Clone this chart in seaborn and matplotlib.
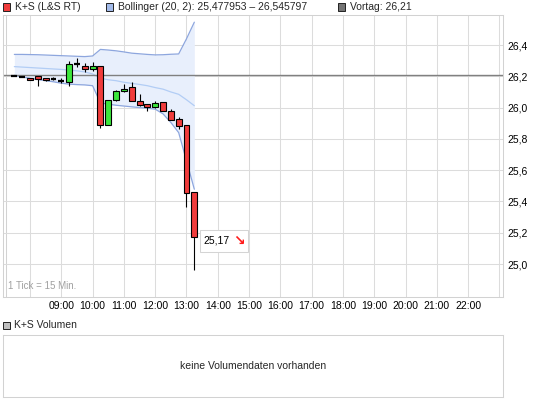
import matplotlib
matplotlib.use("Agg")
import matplotlib.pyplot as plt
from matplotlib.patches import Rectangle
from matplotlib.offsetbox import AnnotationBbox, HPacker, TextArea
import pandas as pd
import seaborn as sns

# 15-minute candles, K+S (L&S RT)
times = ["07:30", "07:45", "08:00", "08:15", "08:30", "08:45", "09:00", "09:15",
         "09:30", "09:45", "10:00", "10:15", "10:30", "10:45", "11:00", "11:15",
         "11:30", "11:45", "12:00", "12:15", "12:30", "12:45", "13:00", "13:15"]
open_ = [26.205, 26.195, 26.192, 26.199, 26.192, 26.186, 26.173, 26.161,
         26.277, 26.264, 26.245, 26.264, 25.891, 26.051, 26.109, 26.129,
         26.045, 26.026, 26.004, 26.034, 25.981, 25.929, 25.886, 25.461]
high = [26.205, 26.195, 26.192, 26.199, 26.192, 26.196, 26.190, 26.297,
        26.315, 26.284, 26.290, 26.268, 26.051, 26.113, 26.148, 26.163,
        26.090, 26.026, 26.039, 26.034, 25.989, 25.938, 25.886, 25.461]
low = [26.205, 26.195, 26.177, 26.140, 26.172, 26.175, 26.156, 26.140,
       26.262, 26.228, 26.235, 25.870, 25.891, 26.042, 26.097, 26.045,
       26.010, 25.978, 25.997, 25.978, 25.923, 25.865, 25.367, 24.964]
close = [26.205, 26.195, 26.177, 26.180, 26.177, 26.186, 26.173, 26.277,
         26.277, 26.245, 26.264, 25.891, 26.051, 26.105, 26.122, 26.045,
         26.019, 26.002, 26.032, 25.978, 25.923, 25.884, 25.455, 25.170]

# Bollinger (20, 2)
upper = [26.340, 26.340, 26.339, 26.338, 26.336, 26.334, 26.332, 26.330,
         26.328, 26.326, 26.330, 26.372, 26.368, 26.363, 26.356, 26.348,
         26.344, 26.340, 26.337, 26.338, 26.341, 26.343, 26.440, 26.546]
middle = [26.262, 26.259, 26.256, 26.253, 26.250, 26.247, 26.244, 26.240,
          26.235, 26.228, 26.215, 26.188, 26.178, 26.172, 26.162, 26.155,
          26.148, 26.140, 26.128, 26.118, 26.100, 26.085, 26.050, 26.012]
lower = [26.206, 26.196, 26.187, 26.180, 26.172, 26.165, 26.156, 26.150,
         26.147, 26.145, 26.140, 26.030, 26.022, 26.015, 26.010, 26.005,
         26.000, 25.996, 25.990, 25.960, 25.905, 25.840, 25.660, 25.478]

vortag = 26.21
hour_labels = ["09:00", "10:00", "11:00", "12:00", "13:00", "14:00", "15:00",
               "16:00", "17:00", "18:00", "19:00", "20:00", "21:00", "22:00"]
price_ticks = [25.0, 25.2, 25.4, 25.6, 25.8, 26.0, 26.2, 26.4]

df = pd.DataFrame({"time": times, "open": open_, "high": high, "low": low,
                   "close": close, "upper": upper, "middle": middle, "lower": lower})
df["hour"] = [int(t[:2]) + int(t[3:]) / 60 for t in df["time"]]

W, H = 545, 401
GRID = "#dcdcdc"
FRAME = "#d2d2d2"
RED = "#f03c3c"
GREEN = "#3ce63c"


def fx(px):
    return px / W


def fy(py):
    return 1 - py / H


sns.set_style("white")
plt.rcParams["font.family"] = ["Liberation Sans", "DejaVu Sans"]

fig = plt.figure(figsize=(W / 100, H / 100), dpi=100)
fig.patch.set_facecolor("white")

# main price panel
ax = fig.add_axes([fx(3), fy(296.7), (503 - 3) / W, (296.7 - 15) / H])
ax.set_xlim(7.1374, 23.112)
ax.set_ylim(24.791, 26.592)

for h in range(8, 24):
    ax.axvline(h, color=GRID, lw=0.75, zorder=0)
ax.axvline(7.233, color=FRAME, lw=0.75, zorder=0)
for p in price_ticks:
    ax.axhline(p, color=GRID, lw=0.75, zorder=0)

# bollinger band
ax.fill_between(df["hour"], df["lower"], df["upper"], color="#e8effc", lw=0, zorder=1)
sns.lineplot(data=df, x="hour", y="upper", ax=ax, color="#8da6de", lw=0.9, zorder=2)
sns.lineplot(data=df, x="hour", y="lower", ax=ax, color="#8da6de", lw=0.9, zorder=2)
sns.lineplot(data=df, x="hour", y="middle", ax=ax, color="#b2cdf5", lw=0.9, zorder=2)

# previous close
ax.axhline(vortag, color="#808080", lw=1.0, zorder=2.5)

# candles
cw = 0.19
for _, r in df.iterrows():
    ax.vlines(r["hour"], r["low"], r["high"], color="black", lw=0.8, zorder=3)
    if abs(r["close"] - r["open"]) < 1e-9:
        ax.hlines(r["open"], r["hour"] - cw / 2, r["hour"] + cw / 2,
                  color="black", lw=1.6, zorder=4)
    else:
        col = GREEN if r["close"] > r["open"] else RED
        ax.add_patch(Rectangle((r["hour"] - cw / 2, min(r["open"], r["close"])),
                               cw, abs(r["close"] - r["open"]),
                               facecolor=col, edgecolor="black", lw=0.8, zorder=4))

ax.set_xlabel("")
ax.set_ylabel("")
ax.set_xticks(range(9, 23))
ax.set_xticklabels(hour_labels)
ax.yaxis.tick_right()
ax.set_yticks(price_ticks)
ax.set_yticklabels([f"{p:.1f}".replace(".", ",") for p in price_ticks])
ax.tick_params(axis="x", length=0, pad=3, labelsize=7.5, colors="black")
ax.tick_params(axis="y", length=0, pad=3, labelsize=7.5, colors="black")
for s in ax.spines.values():
    s.set_color(FRAME)
    s.set_linewidth(0.75)

ax.text(0.009, 0.022, "1 Tick = 15 Min.", transform=ax.transAxes,
        fontsize=7, color="#a0a0a0", ha="left", va="bottom")

# last price label: value and red down arrow in one framed box
last = df.iloc[-1]
label_box = HPacker(children=[
    TextArea(f"{last['close']:.2f}".replace(".", ","),
             textprops=dict(fontsize=7.5, color="black")),
    TextArea("\u2198", textprops=dict(fontsize=10, color="#ff1a1a", fontweight="bold",
                                      family=["DejaVu Sans"])),
], pad=0, sep=2, align="center")
ab = AnnotationBbox(label_box, (last["hour"], last["close"]), xybox=(6.8, -2.4),
                    xycoords="data", boxcoords="offset points", box_alignment=(0, 0.5),
                    frameon=True, pad=0.22,
                    bboxprops=dict(boxstyle="square", fc="white", ec="#d4d4d4", lw=0.75),
                    zorder=6)
ax.add_artist(ab)

# legend row
legend_items = [(3, RED, "K+S (L&S RT)"),
                (106, "#a3bbea", "Bollinger (20, 2): 25,477953 \u2013 26,545797"),
                (338, "#737373", f"Vortag: {vortag:.2f}".replace(".", ","))]
for x0, col, label in legend_items:
    fig.patches.append(Rectangle((fx(x0), fy(10.5)), 7 / W, 7 / H,
                                 transform=fig.transFigure, facecolor=col,
                                 edgecolor="#222222", lw=0.7))
    fig.text(fx(x0 + 12), fy(7), label, fontsize=7.5, va="center", ha="left")

# volume panel
fig.patches.append(Rectangle((fx(3), fy(328.5)), 7 / W, 7 / H,
                             transform=fig.transFigure, facecolor="#c0c0c0",
                             edgecolor="#222222", lw=0.7))
fig.text(fx(14), fy(325), "K+S Volumen", fontsize=7.5, va="center", ha="left")

ax2 = fig.add_axes([fx(3), fy(397), 500 / W, (397 - 335) / H])
ax2.set_xticks([])
ax2.set_yticks([])
for s in ax2.spines.values():
    s.set_color(FRAME)
    s.set_linewidth(0.75)
ax2.text(0.5, 0.5, "keine Volumendaten vorhanden", transform=ax2.transAxes,
         ha="center", va="center", fontsize=7.5)

fig.savefig("out.png", dpi=100)
